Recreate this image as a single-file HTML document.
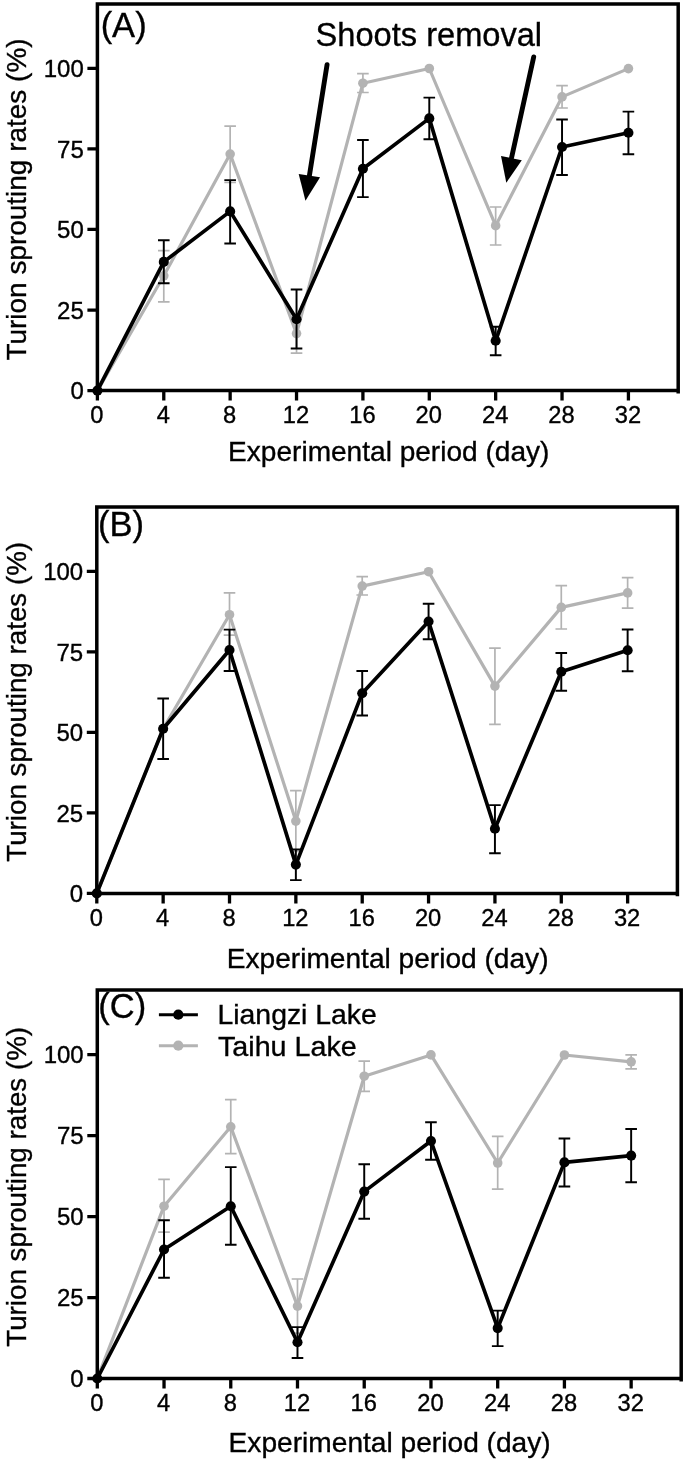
<!DOCTYPE html>
<html lang="en"><head><meta charset="utf-8"><title>Turion sprouting rates</title>
<style>
html,body{margin:0;padding:0;background:#fff;}
body{width:685px;height:1461px;overflow:hidden;}
svg{display:block;}
svg text{font-family:'Liberation Sans', Arial, Helvetica, sans-serif;fill:#000;stroke:#000;stroke-width:0.35px;}
</style></head><body>
<svg width="685" height="1461" viewBox="0 0 685 1461">
<rect width="685" height="1461" fill="#fff"/>
<g id="panelA">
<polyline points="97.4,390.6 163.78,275.8 230.15,154.1 296.53,333.6 362.91,83.2 429.29,68.5 495.66,225.7 562.04,96.9 628.42,68.6" fill="none" stroke="#b3b3b3" stroke-width="3.2" stroke-linejoin="round"/>
<path d="M163.78 250.7V301.9M157.98 250.7H169.58M157.98 301.9H169.58M230.15 126.1V182.4M224.35 126.1H235.95M224.35 182.4H235.95M296.53 314V353.2M290.73 314H302.33M290.73 353.2H302.33M362.91 73.7V92.5M357.11 73.7H368.71M357.11 92.5H368.71M495.66 207V245M489.86 207H501.46M489.86 245H501.46M562.04 85.7V108M556.24 85.7H567.84M556.24 108H567.84" fill="none" stroke="#b3b3b3" stroke-width="1.7"/>
<circle cx="97.4" cy="390.6" r="4.8" fill="#b3b3b3"/>
<circle cx="163.78" cy="275.8" r="4.8" fill="#b3b3b3"/>
<circle cx="230.15" cy="154.1" r="4.8" fill="#b3b3b3"/>
<circle cx="296.53" cy="333.6" r="4.8" fill="#b3b3b3"/>
<circle cx="362.91" cy="83.2" r="4.8" fill="#b3b3b3"/>
<circle cx="429.29" cy="68.5" r="4.8" fill="#b3b3b3"/>
<circle cx="495.66" cy="225.7" r="4.8" fill="#b3b3b3"/>
<circle cx="562.04" cy="96.9" r="4.8" fill="#b3b3b3"/>
<circle cx="628.42" cy="68.6" r="4.8" fill="#b3b3b3"/>
<polyline points="97.4,390.6 163.78,261.9 230.15,211.4 296.53,319.2 362.91,168.8 429.29,118.4 495.66,340.8 562.04,147 628.42,132.7" fill="none" stroke="#000" stroke-width="3.7" stroke-linejoin="round"/>
<path d="M163.78 240.3V283.2M157.98 240.3H169.58M157.98 283.2H169.58M230.15 180.1V243.4M224.35 180.1H235.95M224.35 243.4H235.95M296.53 289.4V348.5M290.73 289.4H302.33M290.73 348.5H302.33M362.91 140V197.1M357.11 140H368.71M357.11 197.1H368.71M429.29 97.6V139.3M423.49 97.6H435.09M423.49 139.3H435.09M495.66 326.7V355.2M489.86 326.7H501.46M489.86 355.2H501.46M562.04 119.4V175M556.24 119.4H567.84M556.24 175H567.84M628.42 111.6V154.3M622.62 111.6H634.22M622.62 154.3H634.22" fill="none" stroke="#000" stroke-width="1.95"/>
<circle cx="97.4" cy="390.6" r="5.05" fill="#000"/>
<circle cx="163.78" cy="261.9" r="5.05" fill="#000"/>
<circle cx="230.15" cy="211.4" r="5.05" fill="#000"/>
<circle cx="296.53" cy="319.2" r="5.05" fill="#000"/>
<circle cx="362.91" cy="168.8" r="5.05" fill="#000"/>
<circle cx="429.29" cy="118.4" r="5.05" fill="#000"/>
<circle cx="495.66" cy="340.8" r="5.05" fill="#000"/>
<circle cx="562.04" cy="147" r="5.05" fill="#000"/>
<circle cx="628.42" cy="132.7" r="5.05" fill="#000"/>
<path d="M97.4 390.6V3.9H678.2V393.5" fill="none" stroke="#000" stroke-width="3.5" stroke-linejoin="miter"/>
<path d="M95.65 390.6H678.2" fill="none" stroke="#000" stroke-width="3.5"/>
<path d="M97.4 390.6V400.6M163.78 390.6V400.6M230.15 390.6V400.6M296.53 390.6V400.6M362.91 390.6V400.6M429.29 390.6V400.6M495.66 390.6V400.6M562.04 390.6V400.6M628.42 390.6V400.6M97.4 390.6H87.4M97.4 310.04H87.4M97.4 229.47H87.4M97.4 148.91H87.4M97.4 68.35H87.4" fill="none" stroke="#000" stroke-width="3.3"/>
<text x="96.9" y="423.4" font-size="23.7" text-anchor="middle">0</text>
<text x="163.28" y="423.4" font-size="23.7" text-anchor="middle">4</text>
<text x="229.65" y="423.4" font-size="23.7" text-anchor="middle">8</text>
<text x="296.03" y="423.4" font-size="23.7" text-anchor="middle">12</text>
<text x="362.41" y="423.4" font-size="23.7" text-anchor="middle">16</text>
<text x="428.79" y="423.4" font-size="23.7" text-anchor="middle">20</text>
<text x="495.16" y="423.4" font-size="23.7" text-anchor="middle">24</text>
<text x="561.54" y="423.4" font-size="23.7" text-anchor="middle">28</text>
<text x="627.92" y="423.4" font-size="23.7" text-anchor="middle">32</text>
<text x="83.8" y="399.3" font-size="24" text-anchor="end">0</text>
<text x="83.8" y="318.74" font-size="24" text-anchor="end">25</text>
<text x="83.8" y="238.17" font-size="24" text-anchor="end">50</text>
<text x="83.8" y="157.61" font-size="24" text-anchor="end">75</text>
<text x="83.8" y="77.05" font-size="24" text-anchor="end">100</text>
<text x="228.1" y="460.7" font-size="28" text-anchor="start" textLength="321.3" lengthAdjust="spacingAndGlyphs">Experimental period (day)</text>
<text transform="translate(25.6 360.6) rotate(-90)" font-size="28.5" textLength="322.2" lengthAdjust="spacingAndGlyphs">Turion sprouting rates (%)</text>
<text x="100.64" y="36.5" font-size="34.5" text-anchor="start">(A)</text>
</g>
<g id="panelB">
<polyline points="96.8,893.4 163.15,728.8 229.51,614.7 295.86,821.1 362.22,586.1 428.57,571.7 494.93,686.1 561.28,607.4 627.63,592.9" fill="none" stroke="#b3b3b3" stroke-width="3.2" stroke-linejoin="round"/>
<path d="M229.51 592.8V635.1M223.71 592.8H235.31M223.71 635.1H235.31M295.86 790.7V851.5M290.06 790.7H301.66M290.06 851.5H301.66M362.22 576.7V595M356.42 576.7H368.02M356.42 595H368.02M494.93 648.1V724.4M489.13 648.1H500.73M489.13 724.4H500.73M561.28 585.7V629M555.48 585.7H567.08M555.48 629H567.08M627.63 577.7V608.2M621.83 577.7H633.43M621.83 608.2H633.43" fill="none" stroke="#b3b3b3" stroke-width="1.7"/>
<circle cx="96.8" cy="893.4" r="4.8" fill="#b3b3b3"/>
<circle cx="163.15" cy="728.8" r="4.8" fill="#b3b3b3"/>
<circle cx="229.51" cy="614.7" r="4.8" fill="#b3b3b3"/>
<circle cx="295.86" cy="821.1" r="4.8" fill="#b3b3b3"/>
<circle cx="362.22" cy="586.1" r="4.8" fill="#b3b3b3"/>
<circle cx="428.57" cy="571.7" r="4.8" fill="#b3b3b3"/>
<circle cx="494.93" cy="686.1" r="4.8" fill="#b3b3b3"/>
<circle cx="561.28" cy="607.4" r="4.8" fill="#b3b3b3"/>
<circle cx="627.63" cy="592.9" r="4.8" fill="#b3b3b3"/>
<polyline points="96.8,893.4 163.15,728.8 229.51,650 295.86,864.6 362.22,693.2 428.57,621.5 494.93,828.7 561.28,671.7 627.63,650.3" fill="none" stroke="#000" stroke-width="3.7" stroke-linejoin="round"/>
<path d="M163.15 698.5V758.9M157.35 698.5H168.95M157.35 758.9H168.95M229.51 629.6V671M223.71 629.6H235.31M223.71 671H235.31M295.86 849.4V880.1M290.06 849.4H301.66M290.06 880.1H301.66M362.22 670.9V715.5M356.42 670.9H368.02M356.42 715.5H368.02M428.57 603.8V639.3M422.77 603.8H434.37M422.77 639.3H434.37M494.93 805.1V853.2M489.13 805.1H500.73M489.13 853.2H500.73M561.28 652.9V690.7M555.48 652.9H567.08M555.48 690.7H567.08M627.63 629.5V671.2M621.83 629.5H633.43M621.83 671.2H633.43" fill="none" stroke="#000" stroke-width="1.95"/>
<circle cx="96.8" cy="893.4" r="5.05" fill="#000"/>
<circle cx="163.15" cy="728.8" r="5.05" fill="#000"/>
<circle cx="229.51" cy="650" r="5.05" fill="#000"/>
<circle cx="295.86" cy="864.6" r="5.05" fill="#000"/>
<circle cx="362.22" cy="693.2" r="5.05" fill="#000"/>
<circle cx="428.57" cy="621.5" r="5.05" fill="#000"/>
<circle cx="494.93" cy="828.7" r="5.05" fill="#000"/>
<circle cx="561.28" cy="671.7" r="5.05" fill="#000"/>
<circle cx="627.63" cy="650.3" r="5.05" fill="#000"/>
<path d="M96.8 893.4V507H677.4V896.3" fill="none" stroke="#000" stroke-width="3.5" stroke-linejoin="miter"/>
<path d="M95.05 893.4H677.4" fill="none" stroke="#000" stroke-width="3.5"/>
<path d="M96.8 893.4V903.4M163.15 893.4V903.4M229.51 893.4V903.4M295.86 893.4V903.4M362.22 893.4V903.4M428.57 893.4V903.4M494.93 893.4V903.4M561.28 893.4V903.4M627.63 893.4V903.4M96.8 893.4H86.8M96.8 812.9H86.8M96.8 732.4H86.8M96.8 651.9H86.8M96.8 571.4H86.8" fill="none" stroke="#000" stroke-width="3.3"/>
<text x="96.3" y="926.2" font-size="23.7" text-anchor="middle">0</text>
<text x="162.65" y="926.2" font-size="23.7" text-anchor="middle">4</text>
<text x="229.01" y="926.2" font-size="23.7" text-anchor="middle">8</text>
<text x="295.36" y="926.2" font-size="23.7" text-anchor="middle">12</text>
<text x="361.72" y="926.2" font-size="23.7" text-anchor="middle">16</text>
<text x="428.07" y="926.2" font-size="23.7" text-anchor="middle">20</text>
<text x="494.43" y="926.2" font-size="23.7" text-anchor="middle">24</text>
<text x="560.78" y="926.2" font-size="23.7" text-anchor="middle">28</text>
<text x="627.13" y="926.2" font-size="23.7" text-anchor="middle">32</text>
<text x="83.2" y="902.1" font-size="24" text-anchor="end">0</text>
<text x="83.2" y="821.6" font-size="24" text-anchor="end">25</text>
<text x="83.2" y="741.1" font-size="24" text-anchor="end">50</text>
<text x="83.2" y="660.6" font-size="24" text-anchor="end">75</text>
<text x="83.2" y="580.1" font-size="24" text-anchor="end">100</text>
<text x="226.8" y="967.8" font-size="28" text-anchor="start" textLength="321.7" lengthAdjust="spacingAndGlyphs">Experimental period (day)</text>
<text transform="translate(25.6 861.8) rotate(-90)" font-size="28.5" textLength="319.9" lengthAdjust="spacingAndGlyphs">Turion sprouting rates (%)</text>
<text x="98.04" y="535.6" font-size="34.5" text-anchor="start">(B)</text>
</g>
<g id="panelC">
<polyline points="97.3,1378.5 164.03,1206.2 230.76,1126.8 297.49,1306.1 364.23,1076.2 430.96,1054.9 497.69,1163 564.42,1055 631.15,1061.8" fill="none" stroke="#b3b3b3" stroke-width="3.2" stroke-linejoin="round"/>
<path d="M164.03 1179.4V1232.2M158.23 1179.4H169.83M158.23 1232.2H169.83M230.76 1099.7V1153.7M224.96 1099.7H236.56M224.96 1153.7H236.56M297.49 1279V1333.2M291.69 1279H303.29M291.69 1333.2H303.29M364.23 1061.2V1091.3M358.43 1061.2H370.03M358.43 1091.3H370.03M497.69 1136.4V1189.1M491.89 1136.4H503.49M491.89 1189.1H503.49M631.15 1054.8V1068.8M625.35 1054.8H636.95M625.35 1068.8H636.95" fill="none" stroke="#b3b3b3" stroke-width="1.7"/>
<circle cx="97.3" cy="1378.5" r="4.8" fill="#b3b3b3"/>
<circle cx="164.03" cy="1206.2" r="4.8" fill="#b3b3b3"/>
<circle cx="230.76" cy="1126.8" r="4.8" fill="#b3b3b3"/>
<circle cx="297.49" cy="1306.1" r="4.8" fill="#b3b3b3"/>
<circle cx="364.23" cy="1076.2" r="4.8" fill="#b3b3b3"/>
<circle cx="430.96" cy="1054.9" r="4.8" fill="#b3b3b3"/>
<circle cx="497.69" cy="1163" r="4.8" fill="#b3b3b3"/>
<circle cx="564.42" cy="1055" r="4.8" fill="#b3b3b3"/>
<circle cx="631.15" cy="1061.8" r="4.8" fill="#b3b3b3"/>
<polyline points="97.3,1378.5 164.03,1249.5 230.76,1206.2 297.49,1342.3 364.23,1191.6 430.96,1141 497.69,1328.1 564.42,1162.4 631.15,1155.6" fill="none" stroke="#000" stroke-width="3.7" stroke-linejoin="round"/>
<path d="M164.03 1220.3V1277.8M158.23 1220.3H169.83M158.23 1277.8H169.83M230.76 1167.1V1244.8M224.96 1167.1H236.56M224.96 1244.8H236.56M297.49 1327.1V1358M291.69 1327.1H303.29M291.69 1358H303.29M364.23 1164.3V1218.7M358.43 1164.3H370.03M358.43 1218.7H370.03M430.96 1122.2V1159.7M425.16 1122.2H436.76M425.16 1159.7H436.76M497.69 1310.6V1346.1M491.89 1310.6H503.49M491.89 1346.1H503.49M564.42 1138.5V1186.4M558.62 1138.5H570.22M558.62 1186.4H570.22M631.15 1128.9V1182.2M625.35 1128.9H636.95M625.35 1182.2H636.95" fill="none" stroke="#000" stroke-width="1.95"/>
<circle cx="97.3" cy="1378.5" r="5.05" fill="#000"/>
<circle cx="164.03" cy="1249.5" r="5.05" fill="#000"/>
<circle cx="230.76" cy="1206.2" r="5.05" fill="#000"/>
<circle cx="297.49" cy="1342.3" r="5.05" fill="#000"/>
<circle cx="364.23" cy="1191.6" r="5.05" fill="#000"/>
<circle cx="430.96" cy="1141" r="5.05" fill="#000"/>
<circle cx="497.69" cy="1328.1" r="5.05" fill="#000"/>
<circle cx="564.42" cy="1162.4" r="5.05" fill="#000"/>
<circle cx="631.15" cy="1155.6" r="5.05" fill="#000"/>
<path d="M97.3 1378.5V989.9H681.2V1381.4" fill="none" stroke="#000" stroke-width="3.5" stroke-linejoin="miter"/>
<path d="M95.55 1378.5H681.2" fill="none" stroke="#000" stroke-width="3.5"/>
<path d="M97.3 1378.5V1388.5M164.03 1378.5V1388.5M230.76 1378.5V1388.5M297.49 1378.5V1388.5M364.23 1378.5V1388.5M430.96 1378.5V1388.5M497.69 1378.5V1388.5M564.42 1378.5V1388.5M631.15 1378.5V1388.5M97.3 1378.5H87.3M97.3 1297.54H87.3M97.3 1216.58H87.3M97.3 1135.62H87.3M97.3 1054.67H87.3" fill="none" stroke="#000" stroke-width="3.3"/>
<text x="96.8" y="1411.3" font-size="23.7" text-anchor="middle">0</text>
<text x="163.53" y="1411.3" font-size="23.7" text-anchor="middle">4</text>
<text x="230.26" y="1411.3" font-size="23.7" text-anchor="middle">8</text>
<text x="296.99" y="1411.3" font-size="23.7" text-anchor="middle">12</text>
<text x="363.73" y="1411.3" font-size="23.7" text-anchor="middle">16</text>
<text x="430.46" y="1411.3" font-size="23.7" text-anchor="middle">20</text>
<text x="497.19" y="1411.3" font-size="23.7" text-anchor="middle">24</text>
<text x="563.92" y="1411.3" font-size="23.7" text-anchor="middle">28</text>
<text x="630.65" y="1411.3" font-size="23.7" text-anchor="middle">32</text>
<text x="83.7" y="1387.2" font-size="24" text-anchor="end">0</text>
<text x="83.7" y="1306.24" font-size="24" text-anchor="end">25</text>
<text x="83.7" y="1225.28" font-size="24" text-anchor="end">50</text>
<text x="83.7" y="1144.33" font-size="24" text-anchor="end">75</text>
<text x="83.7" y="1063.37" font-size="24" text-anchor="end">100</text>
<text x="228.6" y="1452" font-size="28" text-anchor="start" textLength="322.1" lengthAdjust="spacingAndGlyphs">Experimental period (day)</text>
<text transform="translate(25.6 1346.8) rotate(-90)" font-size="28.5" textLength="319.9" lengthAdjust="spacingAndGlyphs">Turion sprouting rates (%)</text>
<text x="98.34" y="1018.4" font-size="34.5" text-anchor="start">(C)</text>
</g>
<text x="315.6" y="46.1" font-size="33" text-anchor="start" textLength="226.5" lengthAdjust="spacingAndGlyphs">Shoots removal</text>
<path d="M327.07 64.6L309.4 175.6" stroke="#000" stroke-width="4.9" stroke-linecap="round" fill="none"/><path d="M298.7 174L320.06 177.3L305.46 200.66Z" fill="#000"/>
<path d="M533.7 56.9L511.5 158.1" stroke="#000" stroke-width="4.9" stroke-linecap="round" fill="none"/><path d="M501 156L521.8 160.3L506.3 182.7Z" fill="#000"/>
<path d="M158.9 1014.7H197.9" stroke="#000" stroke-width="2.9"/><circle cx="178.3" cy="1014.7" r="5.1" fill="#000"/>
<path d="M158.9 1045.7H197.9" stroke="#b3b3b3" stroke-width="2.9"/><circle cx="178.3" cy="1045.7" r="5.1" fill="#b3b3b3"/>
<text x="217.5" y="1024" font-size="28.3" text-anchor="start" textLength="159.3" lengthAdjust="spacingAndGlyphs">Liangzi Lake</text>
<text x="218" y="1055.5" font-size="28.3" text-anchor="start" textLength="138.7" lengthAdjust="spacingAndGlyphs">Taihu Lake</text>
</svg>
</body></html>
